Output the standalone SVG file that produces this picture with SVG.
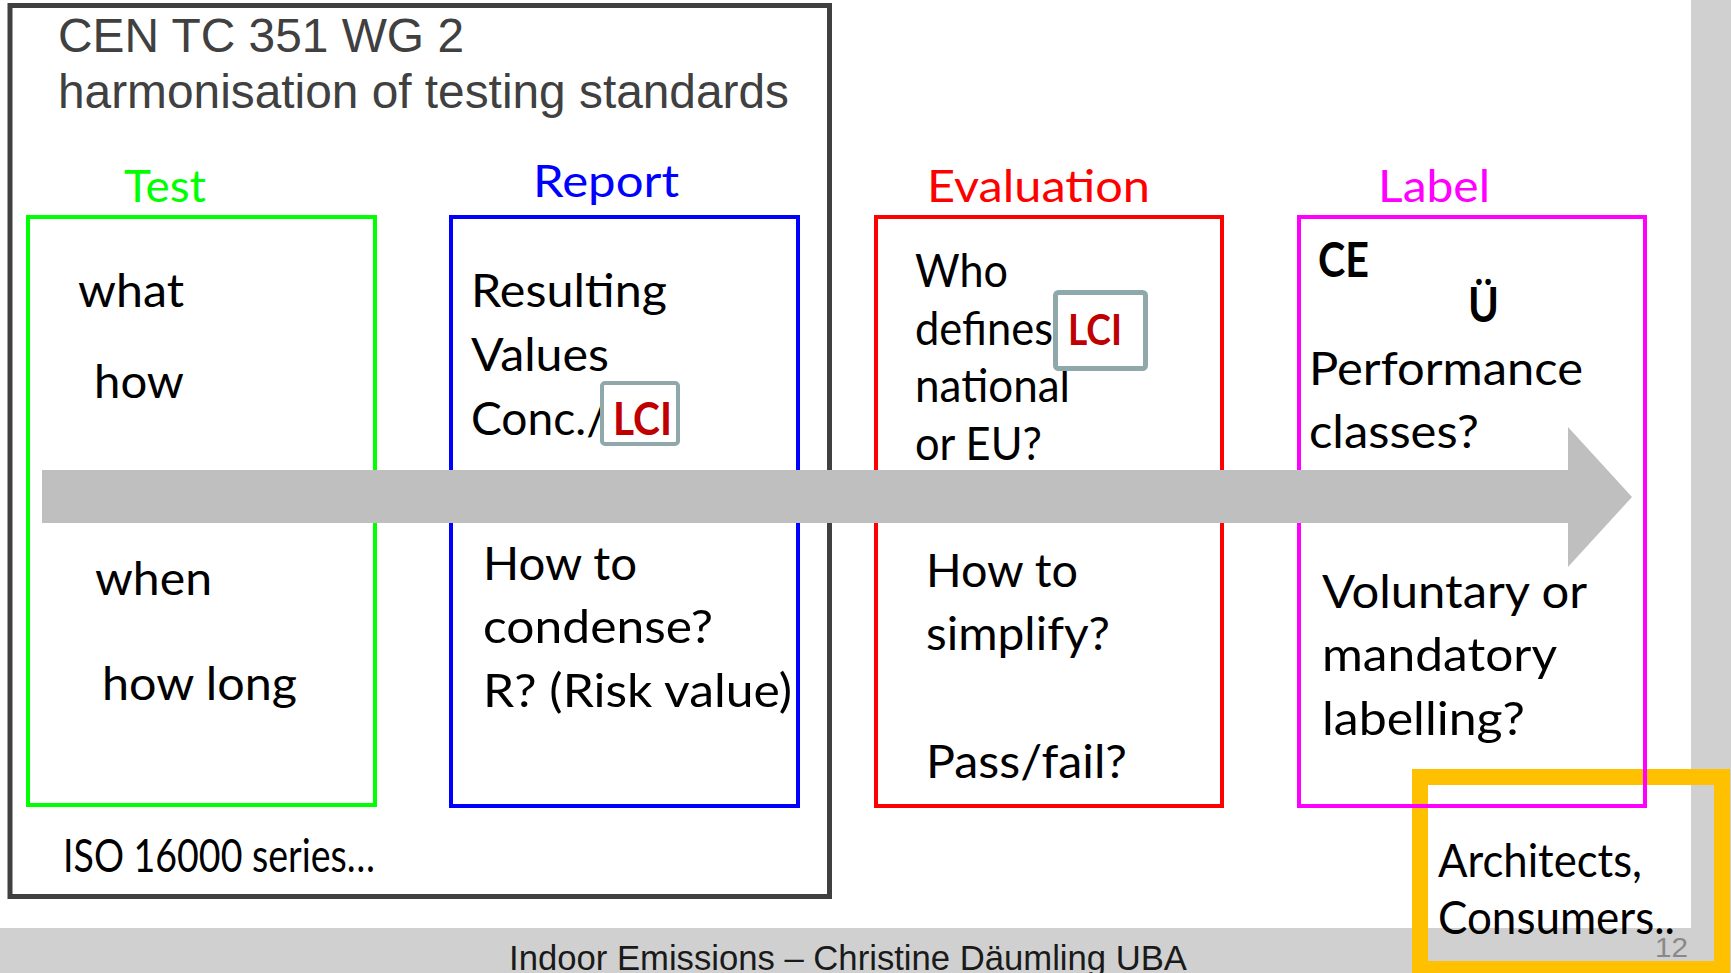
<svg xmlns="http://www.w3.org/2000/svg" width="1731" height="973" viewBox="0 0 1731 973">
<style>
.body{font-family:Lato,"Open Sans",sans-serif;font-size:47px;fill:#000}
.hdr{font-family:Lato,"Open Sans",sans-serif;font-size:44px}
.bold{font-family:Lato,"Open Sans",sans-serif;font-weight:bold;fill:#000}
.lci{font-family:Lato,"Open Sans",sans-serif;font-weight:bold;fill:#C00000}
.lcibox{fill:#fff;stroke:#8FA8AA;stroke-linejoin:round}
.arial{font-family:"Liberation Sans",Arial,sans-serif}
.box{fill:none;stroke-width:4}
</style>
<rect x="0" y="0" width="1731" height="973" fill="#fff"/>
<g id="background">
<rect x="1691" y="0" width="40" height="973" fill="#D0D0D0"/>
<rect x="0" y="928" width="1731" height="45" fill="#D0D0D0"/>
</g>
<g id="wg2-frame">
<rect x="10" y="5.5" width="819.5" height="891" fill="none" stroke="#404040" stroke-width="5"/>
<text class="arial" x="58" y="52" font-size="48" fill="#404040" textLength="406" lengthAdjust="spacingAndGlyphs">CEN TC 351 WG 2</text>
<text class="arial" x="58" y="108" font-size="48" fill="#404040" textLength="731" lengthAdjust="spacingAndGlyphs">harmonisation of testing standards</text>
<text class="body" x="63" y="872" font-size="34" textLength="312" lengthAdjust="spacingAndGlyphs">ISO 16000 series…</text>
</g>
<g id="audience">
<rect x="1420" y="777" width="302" height="192" fill="none" stroke="#FFC000" stroke-width="16"/>
<text class="body" x="1438" y="877" textLength="204" lengthAdjust="spacingAndGlyphs">Architects,</text>
<text class="body" x="1438" y="934" textLength="237" lengthAdjust="spacingAndGlyphs">Consumers..</text>
</g>
<g id="test">
<rect class="box" x="28" y="217" width="347" height="588" stroke="#00FF00"/>
<text class="hdr" x="124" y="202" fill="#00FF00" textLength="82" lengthAdjust="spacingAndGlyphs">Test</text>
</g>
<g id="report">
<rect class="box" x="451" y="217" width="347" height="589" stroke="#0000FF"/>
<text class="hdr" x="533" y="197" fill="#0000FF" textLength="146" lengthAdjust="spacingAndGlyphs">Report</text>
</g>
<g id="evaluation">
<rect class="box" x="876" y="217" width="346" height="589" stroke="#FF0000"/>
<text class="hdr" x="927" y="202" fill="#FF0000" textLength="223" lengthAdjust="spacingAndGlyphs">Evaluation</text>
</g>
<g id="label">
<rect class="box" x="1299" y="217" width="346" height="589" stroke="#FF00FF"/>
<text class="hdr" x="1378" y="202" fill="#FF00FF" textLength="112" lengthAdjust="spacingAndGlyphs">Label</text>
</g>
<g id="connectors">
<polygon points="42,470 1568,470 1568,427 1632,497 1568,567 1568,523 42,523" fill="#BFBFBF"/>
</g>
<g id="test-text">
<text class="body" x="78" y="307" textLength="106" lengthAdjust="spacingAndGlyphs">what</text>
<text class="body" x="94" y="398" textLength="90" lengthAdjust="spacingAndGlyphs">how</text>
<text class="body" x="95" y="595" textLength="117" lengthAdjust="spacingAndGlyphs">when</text>
<text class="body" x="102" y="700" textLength="195" lengthAdjust="spacingAndGlyphs">how long</text>
</g>
<g id="report-text">
<text class="body" x="471" y="307" textLength="196" lengthAdjust="spacingAndGlyphs">Resulting</text>
<text class="body" x="471" y="371" textLength="138" lengthAdjust="spacingAndGlyphs">Values</text>
<text class="body" x="471" y="435" textLength="136" lengthAdjust="spacingAndGlyphs">Conc./</text>
<g id="report-lci">
<rect class="lcibox" x="602" y="383" width="76" height="61" rx="3" stroke-width="4"/>
<text class="lci" x="613" y="435" font-size="46" textLength="59" lengthAdjust="spacingAndGlyphs">LCI</text>
</g>
<text class="body" x="483" y="580" textLength="154" lengthAdjust="spacingAndGlyphs">How to</text>
<text class="body" x="483" y="643" textLength="230" lengthAdjust="spacingAndGlyphs">condense?</text>
<text class="body" x="483" y="707" textLength="309" lengthAdjust="spacingAndGlyphs">R? (Risk value)</text>
</g>
<g id="evaluation-text">
<text class="body" x="915" y="287" textLength="93" lengthAdjust="spacingAndGlyphs">Who</text>
<text class="body" x="915" y="345" textLength="138" lengthAdjust="spacingAndGlyphs">defines</text>
<text class="body" x="915" y="402" textLength="155" lengthAdjust="spacingAndGlyphs">national</text>
<text class="body" x="915" y="460" textLength="127" lengthAdjust="spacingAndGlyphs">or EU?</text>
<g id="evaluation-lci">
<rect class="lcibox" x="1055.5" y="292.5" width="90" height="76" rx="3" stroke-width="5"/>
<text class="lci" x="1068" y="345" font-size="42" textLength="54" lengthAdjust="spacingAndGlyphs">LCI</text>
</g>
<text class="body" x="926" y="587" textLength="152" lengthAdjust="spacingAndGlyphs">How to</text>
<text class="body" x="926" y="650" textLength="184" lengthAdjust="spacingAndGlyphs">simplify?</text>
<text class="body" x="926" y="778" textLength="201" lengthAdjust="spacingAndGlyphs">Pass/fail?</text>
</g>
<g id="label-text">
<text class="bold" x="1318" y="277" font-size="47" textLength="51" lengthAdjust="spacingAndGlyphs">CE</text>
<text class="bold" x="1468" y="322" font-size="47" textLength="31" lengthAdjust="spacingAndGlyphs">Ü</text>
<text class="body" x="1309" y="385" textLength="274" lengthAdjust="spacingAndGlyphs">Performance</text>
<text class="body" x="1309" y="448" textLength="170" lengthAdjust="spacingAndGlyphs">classes?</text>
<text class="body" x="1322" y="608" textLength="265" lengthAdjust="spacingAndGlyphs">Voluntary or</text>
<text class="body" x="1322" y="671" textLength="235" lengthAdjust="spacingAndGlyphs">mandatory</text>
<text class="body" x="1322" y="735" textLength="203" lengthAdjust="spacingAndGlyphs">labelling?</text>
</g>
<g id="footer">
<text class="arial" x="509" y="970" font-size="34.5" fill="#1a1a1a" textLength="678" lengthAdjust="spacingAndGlyphs">Indoor Emissions – Christine Däumling UBA</text>
<text class="arial" x="1655" y="957" font-size="28" fill="#898989" textLength="33" lengthAdjust="spacingAndGlyphs">12</text>
</g>
</svg>
